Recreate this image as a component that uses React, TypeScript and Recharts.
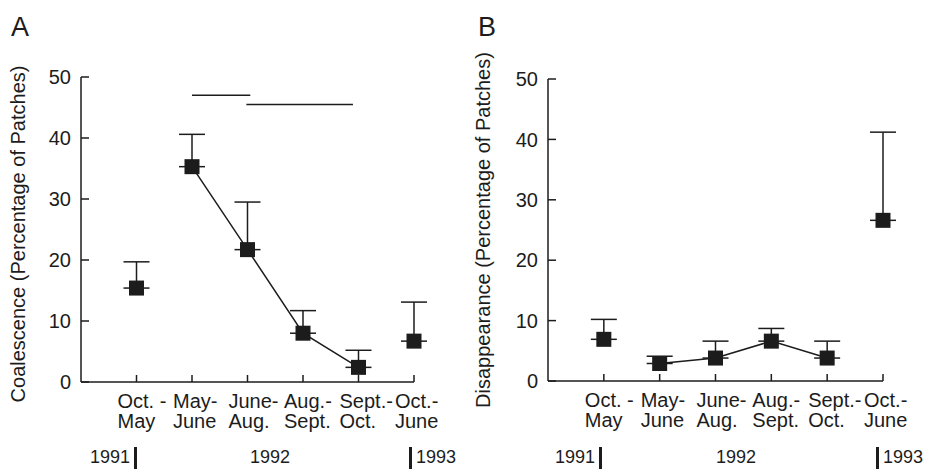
import React from "react"
import { ComposedChart, Line, Scatter, XAxis, YAxis, ErrorBar, ReferenceLine } from "recharts"

const INK = "#1c1c1c"
const FONT = "'Liberation Sans', Arial, Helvetica, sans-serif"

// sampling periods (two-line tick labels)
const periodTop = ["Oct. -", "May-", "June-", "Aug.-", "Sept.-", "Oct.-"]
const periodBottom = ["May", "June", "Aug.", "Sept.", "Oct.", "June"]
const periodIndex = [0, 1, 2, 3, 4, 5]
const linked = [false, true, true, true, true, false]

// A: coalescence, mean and upper error limit
const coalescence = [15.4, 35.3, 21.7, 8.0, 2.4, 6.7]
const coalescenceUpper = [19.7, 40.6, 29.5, 11.7, 5.2, 13.1]

// B: disappearance, mean and upper error limit
const disappearance = [6.9, 2.9, 3.8, 6.6, 3.8, 26.6]
const disappearanceUpper = [10.2, 4.1, 6.6, 8.7, 6.6, 41.2]

// significance bars over panel A
const coalescenceBrackets = [
  { from: 1, to: 2.05, y: 47 },
  { from: 1.98, to: 3.9, y: 45.5 },
]

const yTicks = [0, 10, 20, 30, 40, 50]

const buildRows = (values: number[], upper: number[]) =>
  values.map((v, i) => ({
    i: periodIndex[i],
    value: v,
    linkedValue: linked[i] ? v : null,
    err: [0, +(upper[i] - v).toFixed(2)],
  }))

const Square = (p: any) => (
  <rect x={p.cx - 7.5} y={p.cy - 7.5} width={15} height={15} fill={INK} />
)

const PeriodTick = ({ x, y, payload }: any) => (
  <text x={x - 19} y={y} fill={INK} fontSize={20} fontFamily={FONT}>
    <tspan x={x - 19} dy={26}>{periodTop[payload.value]}</tspan>
    <tspan x={x - 19} dy={20}>{periodBottom[payload.value]}</tspan>
  </text>
)

type PanelProps = {
  rows: ReturnType<typeof buildRows>
  margin: { top: number; right: number; bottom: number; left: number }
  brackets?: { from: number; to: number; y: number }[]
}

function Panel({ rows, margin, brackets = [] }: PanelProps) {
  return (
    <ComposedChart width={464} height={469} data={rows} margin={margin}>
      <XAxis
        type="number"
        dataKey="i"
        domain={[-1, 5]}
        ticks={periodIndex}
        interval={0}
        height={60}
        tickSize={-7}
        tickMargin={7}
        tick={<PeriodTick />}
        axisLine={{ stroke: INK, strokeWidth: 1.5 }}
        tickLine={{ stroke: INK, strokeWidth: 1.5 }}
      />
      <YAxis
        type="number"
        domain={[0, 50]}
        ticks={yTicks}
        interval={0}
        width={60}
        tickSize={-8}
        tickMargin={18}
        tick={{ fill: INK, fontSize: 20, fontFamily: FONT }}
        axisLine={{ stroke: INK, strokeWidth: 1.5 }}
        tickLine={{ stroke: INK, strokeWidth: 1.5 }}
      />
      {brackets.map((b, k) => (
        <ReferenceLine
          key={k}
          segment={[{ x: b.from, y: b.y }, { x: b.to, y: b.y }]}
          stroke={INK}
          strokeWidth={1.5}
        />
      ))}
      <Line
        dataKey="linkedValue"
        stroke={INK}
        strokeWidth={1.5}
        dot={false}
        activeDot={false}
        connectNulls={false}
        isAnimationActive={false}
      />
      <Scatter dataKey="value" shape={Square} isAnimationActive={false}>
        <ErrorBar dataKey="err" direction="y" width={13} stroke={INK} strokeWidth={1.5} />
      </Scatter>
    </ComposedChart>
  )
}

export default function App() {
  const rowsA = buildRows(coalescence, coalescenceUpper)
  const rowsB = buildRows(disappearance, disappearanceUpper)
  return (
    <div
      style={{
        position: "absolute",
        left: 0,
        top: 0,
        width: 928,
        height: 469,
        background: "#fff",
        fontFamily: FONT,
        overflow: "hidden",
      }}
    >
      <div style={{ position: "absolute", left: 0, top: 0 }}>
        <Panel rows={rowsA} margin={{ top: 77, right: 50, bottom: 27, left: 21 }} brackets={coalescenceBrackets} />
      </div>
      <div style={{ position: "absolute", left: 464, top: 0 }}>
        <Panel rows={rowsB} margin={{ top: 79, right: 45, bottom: 28, left: 24 }} />
      </div>

      {/* panel letters, axis titles, year row */}
      <svg
        width={928}
        height={469}
        style={{ position: "absolute", left: 0, top: 0, pointerEvents: "none" }}
        fontFamily={FONT}
        fill={INK}
      >
        <text x={11} y={36} fontSize={27}>A</text>
        <text x={478} y={36} fontSize={27}>B</text>

        <text x={25} y={234} fontSize={20} textAnchor="middle" transform="rotate(-90 25 234)">
          Coalescence (Percentage of Patches)
        </text>
        <text x={490} y={230} fontSize={20} textAnchor="middle" transform="rotate(-90 490 230)">
          Disappearance (Percentage of Patches)
        </text>

        <text x={130} y={463} fontSize={18} textAnchor="end">1991</text>
        <rect x={134} y={447} width={3} height={22} />
        <text x={270} y={463} fontSize={18} textAnchor="middle">1992</text>
        <rect x={409} y={447} width={3} height={22} />
        <text x={416} y={463} fontSize={18}>1993</text>

        <text x={595} y={463} fontSize={18} textAnchor="end">1991</text>
        <rect x={599} y={447} width={3} height={22} />
        <text x={736} y={463} fontSize={18} textAnchor="middle">1992</text>
        <rect x={876} y={447} width={3} height={22} />
        <text x={883} y={463} fontSize={18}>1993</text>
      </svg>
    </div>
  )
}
